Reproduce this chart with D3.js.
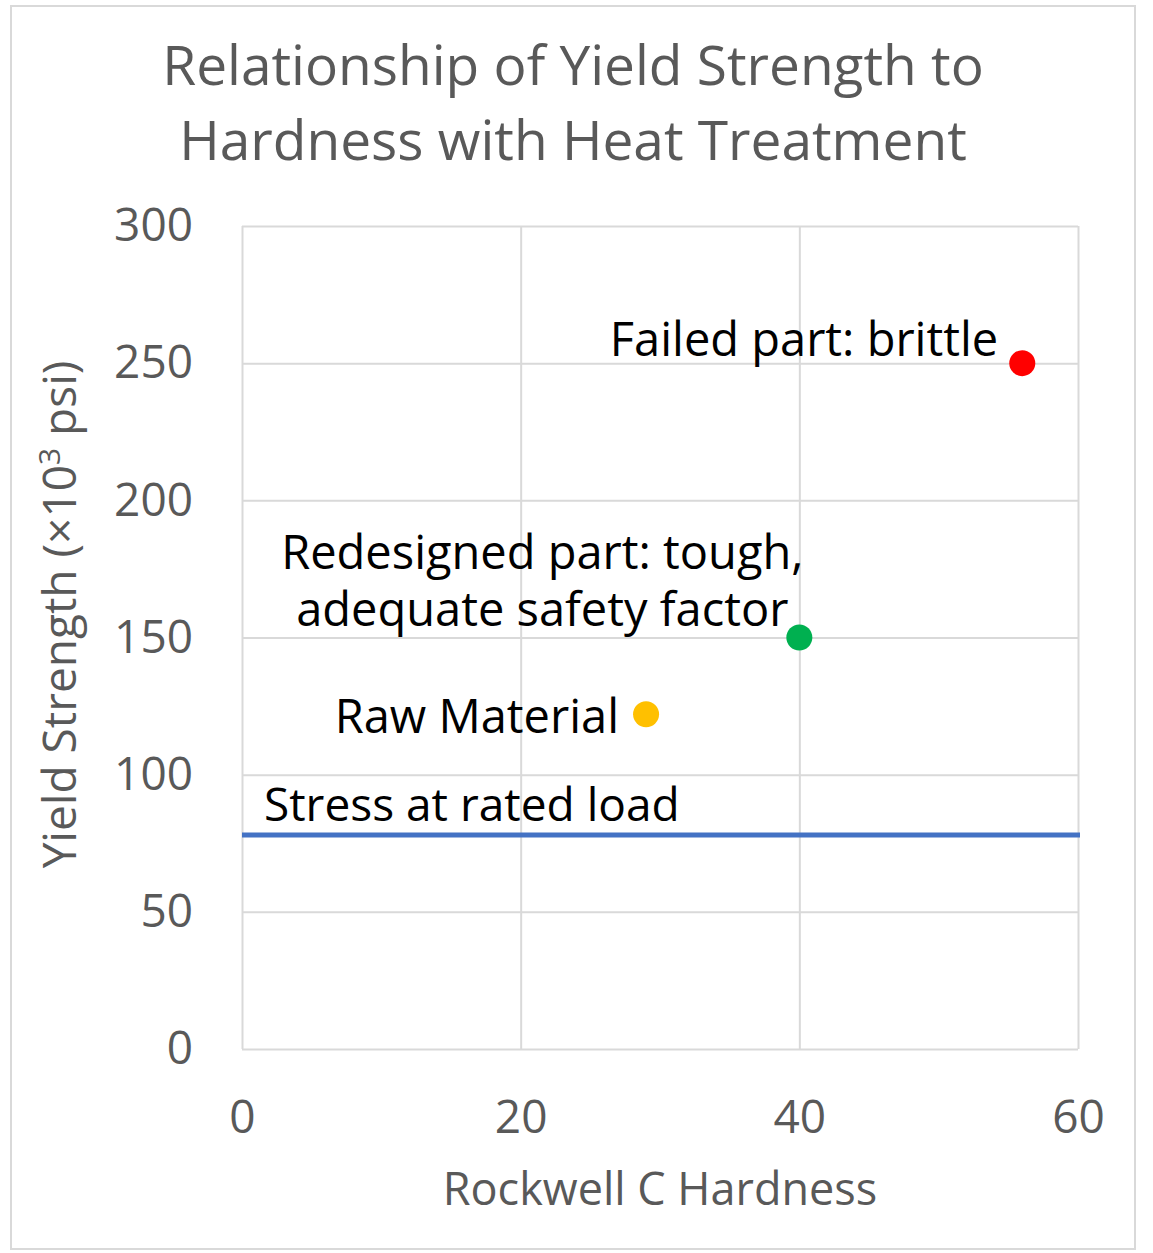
<html>
<head>
  <script src="https://d3js.org/d3.v7.min.js"></script>
  <style>
    body {
      background-color: white;
      margin: 0;
      padding: 0;
      overflow: hidden;
    }
    svg {
      font-family: "Open Sans", sans-serif;
    }
  </style>
</head>
<body>
  <svg width="1153" height="1253"></svg>

  <script>
    // data
    const pointLabels = ["Raw Material", "Redesigned part: tough,|adequate safety factor", "Failed part: brittle"];
    const hardness = [29, 40, 56];
    const strength = [122, 150, 250];
    const pointColors = ["#ffc000", "#00b050", "#ff0000"];
    const ratedLoad = 78;
    const ratedLoadLabel = "Stress at rated load";
    const xTicks = [0, 20, 40, 60];
    const yTicks = [0, 50, 100, 150, 200, 250, 300];

    // label placement (pixels relative to the point)
    const labelDx = [-27, -257, -24];
    const labelDy = [19, -12, -7];
    const labelAnchor = ["end", "middle", "end"];

    const svg = d3.select("svg"),
          margin = { top: 226, right: 75, bottom: 204, left: 242 },
          width = +svg.attr("width") - margin.left - margin.right,
          height = +svg.attr("height") - margin.top - margin.bottom;

    // outer chart border
    svg.append("rect")
      .attr("x", 11).attr("y", 6)
      .attr("width", 1124).attr("height", 1243)
      .attr("fill", "white")
      .attr("stroke", "#d9d9d9")
      .attr("stroke-width", 2);

    const g = svg.append("g").attr("transform", "translate(" + margin.left + "," + margin.top + ")");

    const xScale = d3.scaleLinear().domain([0, 60]).range([0, width]);
    const yScale = d3.scaleLinear().domain([0, 300]).range([height, 0]);

    // gridlines
    g.append("g")
      .call(d3.axisLeft(yScale).tickValues(yTicks).tickSize(-width).tickFormat(""))
      .call(a => a.select(".domain").remove())
      .selectAll("line").attr("stroke", "#d9d9d9").attr("stroke-width", 2);

    g.append("g")
      .call(d3.axisBottom(xScale).tickValues(xTicks).tickSize(height).tickFormat(""))
      .call(a => a.select(".domain").remove())
      .selectAll("line").attr("stroke", "#d9d9d9").attr("stroke-width", 2);

    // tick labels
    const yAxis = g.append("g")
      .call(d3.axisLeft(yScale).tickValues(yTicks).tickSize(0).tickPadding(49));
    yAxis.select(".domain").remove();
    yAxis.selectAll("text")
      .attr("font-family", "Open Sans, sans-serif")
      .attr("font-size", 46)
      .attr("fill", "#595959");

    const xAxis = g.append("g")
      .attr("transform", "translate(0," + height + ")")
      .call(d3.axisBottom(xScale).tickValues(xTicks).tickSize(0).tickPadding(51));
    xAxis.select(".domain").remove();
    xAxis.selectAll("text")
      .attr("font-family", "Open Sans, sans-serif")
      .attr("font-size", 46)
      .attr("fill", "#595959");

    // rated load line
    g.append("line")
      .attr("x1", xScale(0)).attr("x2", xScale(60) + 2)
      .attr("y1", yScale(ratedLoad)).attr("y2", yScale(ratedLoad))
      .attr("stroke", "#4472c4")
      .attr("stroke-width", 5);

    g.append("text")
      .attr("x", xScale(0) + 22)
      .attr("y", yScale(ratedLoad) - 14)
      .attr("font-size", 46)
      .attr("fill", "black")
      .text(ratedLoadLabel);

    // points
    const pts = hardness.map((h, i) => ({
      x: h, y: strength[i], c: pointColors[i], label: pointLabels[i],
      dx: labelDx[i], dy: labelDy[i], anchor: labelAnchor[i]
    }));

    g.selectAll(".pt")
      .data(pts)
      .enter().append("circle")
      .attr("class", "pt")
      .attr("cx", d => xScale(d.x))
      .attr("cy", d => yScale(d.y))
      .attr("r", 13)
      .attr("fill", d => d.c);

    // point labels
    g.selectAll(".lbl")
      .data(pts)
      .enter().append("text")
      .attr("class", "lbl")
      .attr("text-anchor", d => d.anchor)
      .attr("font-size", 47)
      .attr("fill", "black")
      .each(function(d) {
        const lines = d.label.split("|");
        const n = lines.length;
        lines.forEach((s, j) => {
          d3.select(this).append("tspan")
            .attr("x", xScale(d.x) + d.dx)
            .attr("y", yScale(d.y) + d.dy - (n - 1 - j) * 57)
            .text(s);
        });
      });

    // chart title
    svg.append("text")
      .attr("x", 573).attr("y", 85)
      .attr("text-anchor", "middle")
      .attr("font-size", 55)
      .attr("fill", "#595959")
      .text("Relationship of Yield Strength to");
    svg.append("text")
      .attr("x", 573).attr("y", 160)
      .attr("text-anchor", "middle")
      .attr("font-size", 55)
      .attr("fill", "#595959")
      .text("Hardness with Heat Treatment");

    // axis titles
    svg.append("text")
      .attr("x", margin.left + width / 2)
      .attr("y", 1205)
      .attr("text-anchor", "middle")
      .attr("font-size", 45)
      .attr("fill", "#595959")
      .text("Rockwell C Hardness");

    const yt = svg.append("text")
      .attr("transform", "translate(76," + (margin.top + height / 2 - 23) + ") rotate(-90)")
      .attr("text-anchor", "middle")
      .attr("font-size", 46)
      .attr("fill", "#595959");
    yt.append("tspan").text("Yield Strength (\u00d710");
    yt.append("tspan").attr("dy", -16).attr("font-size", 30).text("3");
    yt.append("tspan").attr("dy", 16).text(" psi)");
  </script>
</body>
</html>
